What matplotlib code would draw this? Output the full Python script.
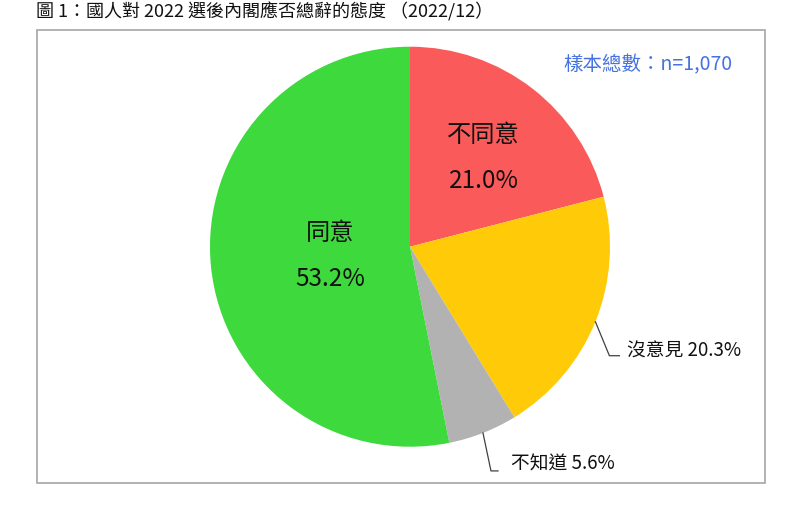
import numpy as np
import matplotlib.pyplot as plt
from matplotlib.patches import Rectangle

plt.rcParams['font.family'] = ['Noto Sans CJK TC', 'DejaVu Sans']

labels = ['不同意', '沒意見', '不知道', '同意']
values = [21.0, 20.3, 5.6, 53.2]
colors = ['#FA5A5A', '#FFCA08', '#B2B2B2', '#3DD93D']
title = '圖 1：國人對 2022 選後內閣應否總辭的態度 （2022/12）'
sample_note = '樣本總數：n=1,070'

fig = plt.figure(figsize=(8, 5.11), dpi=100)

# frame around the chart area
fig.patches.append(Rectangle((0.046, 0.055), 0.91, 0.886, transform=fig.transFigure,
                             fill=False, edgecolor='#A6A6A6', linewidth=1.2))

fig.text(0.045, 0.977, title, fontsize=13, va='center', ha='left', color='#111111')
fig.text(0.916, 0.873, sample_note, fontsize=14, va='center', ha='right', color='#4472E0')

ax = fig.add_axes([0.2625, 0.1258, 0.5, 0.7828])
wedges, _ = ax.pie(values, colors=colors, startangle=90, counterclock=False,
                   radius=1, wedgeprops=dict(linewidth=0))
ax.set_xlim(-1, 1)
ax.set_ylim(-1, 1)
ax.set_aspect('equal')

mids = [np.deg2rad((w.theta1 + w.theta2) / 2) for w in wedges]

# inside labels
for i, r, shift in [(0, 0.6, -0.025), (3, 0.4, 0.0)]:
    x, y = r * np.cos(mids[i]), r * np.sin(mids[i]) + shift
    ax.text(x, y + 0.11, labels[i], ha='center', va='center', fontsize=17.5, color='#111111')
    ax.text(x, y - 0.12, f'{values[i]:.1f}%', ha='center', va='center', fontsize=17.5, color='#111111')

# outside labels with leader lines
for i, drop, run, dx_txt, dy_txt in [(1, 0.17, 0.05, 0.09, 0.025), (2, 0.19, 0.035, 0.1, 0.035)]:
    ex, ey = np.cos(mids[i]), np.sin(mids[i])
    kx, ky = ex + (0.07 if i == 1 else 0.04), ey - drop
    ax.plot([ex, kx, kx + run], [ey, ky, ky], color='#404040', linewidth=0.9, clip_on=False)
    ax.text(kx + dx_txt, ky + dy_txt, f'{labels[i]} {values[i]:.1f}%', ha='left', va='center',
            fontsize=13.5, color='#111111', clip_on=False)

fig.savefig('out.png', dpi=100)
